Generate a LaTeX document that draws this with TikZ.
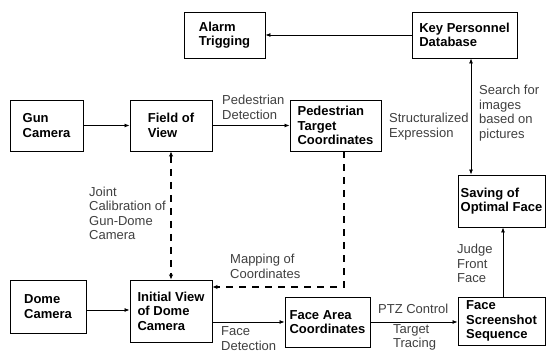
\documentclass[tikz,border=0pt]{standalone}
\usepackage{fontspec}
\setmainfont{Liberation Sans}
\usetikzlibrary{arrows.meta,calc}
\begin{document}
\begin{tikzpicture}[x=1pt,y=-1pt,
  box/.style={draw, line width=0.9pt, align=left, inner sep=0pt, font=\fontsize{13}{14.5}\selectfont\bfseries},
  lbl/.style={align=left, inner sep=0pt, anchor=north west, font=\fontsize{13}{14.5}\selectfont, text=black!75},
  arr/.style={line width=0.8pt, -{Latex[length=5pt,width=4pt]}},
  darr/.style={line width=1.5pt, dash pattern=on 7pt off 6pt, -{Latex[length=5pt,width=4.5pt]}},
  dboth/.style={line width=1.5pt, dash pattern=on 7pt off 6pt, {Latex[length=5pt,width=4.5pt]}-{Latex[length=5pt,width=4.5pt]}},
  both/.style={line width=0.8pt, {Latex[length=5pt,width=4pt]}-{Latex[length=5pt,width=4pt]}},
]
\useasboundingbox (0,0) rectangle (546,352);
\fill[white] (0,0) rectangle (546,352);

% boxes
\node[box, minimum width=81pt, minimum height=46pt] (alarm) at (224.5,35) {Alarm\\Trigging};
\node[box, minimum width=105pt, minimum height=46pt] (key) at (464.5,35) {Key Personnel\\Database};
\node[box, minimum width=73pt, minimum height=51pt] (gun) at (46.5,125.5) {Gun\\Camera};
\node[box, minimum width=82pt, minimum height=51pt] (fov) at (171,125.5) {Field of\\View};
\node[box, minimum width=91pt, minimum height=51pt] (ped) at (335.5,125.5) {Pedestrian\\Target\\Coordinates};
\node[box, minimum width=87pt, minimum height=52pt] (saving) at (501.5,201) {Saving of\\Optimal Face};
\node[box, minimum width=76pt, minimum height=53pt] (dome) at (48,306.5) {Dome\\Camera};
\node[box, minimum width=82pt, minimum height=62pt] (initial) at (171,311) {Initial View\\of Dome\\Camera};
\node[box, minimum width=85pt, minimum height=50pt] (face) at (327.5,322) {Face Area\\Coordinates};
\node[box, minimum width=87pt, minimum height=48pt] (shot) at (501.5,321) {Face\\Screenshot\\Sequence};

% helper coordinates
\coordinate (kx) at (471,0);
\coordinate (sx) at (503,0);
\coordinate (dy) at (0,310);
\coordinate (m1) at (344,287);

% connectors
\draw[arr] (gun.east) -- (fov.west);
\draw[arr] (fov.east) -- (ped.west);
\draw[arr] (key.west) -- (alarm.east);
\draw[both] (key.south -| kx) -- (saving.north -| kx);
\draw[arr] (shot.north -| sx) -- (saving.south -| sx);
\draw[arr] (dome.east |- dy) -- (initial.west |- dy);
\draw[arr] (initial.east |- face.west) -- (face.west);
\draw[arr] (face.east) -- (shot.west |- face.east);
\draw[dboth] (fov.south) -- (initial.north);
\draw[darr] (ped.south -| m1) |- (initial.east |- m1);

% labels
\node[lbl] (l1) at (222,95) {Pedestrian\\Detection};
\node[lbl] (l2) at (389,113) {Structuralized\\Expression};
\node[lbl] (l3) at (479,85) {Search for\\images\\based on\\pictures};
\node[lbl] (l4) at (89,186.5) {Joint\\Calibration of\\Gun-Dome\\Camera};
\node[lbl] (l5) at (230,254) {Mapping of\\Coordinates};
\node[lbl] (l6) at (221,326.5) {Face\\Detection};
\node[lbl] (l7) at (378,304) {PTZ Control};
\node[lbl] (l8) at (393,324) {Target\\Tracing};
\node[lbl] (l9) at (457,244) {Judge\\Front\\Face};
\end{tikzpicture}
\end{document}
